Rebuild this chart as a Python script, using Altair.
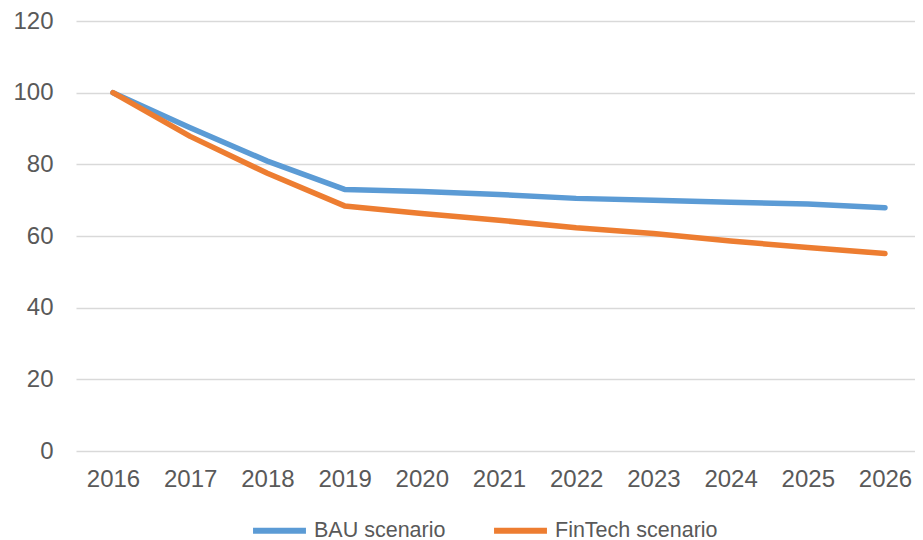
import altair as alt
import pandas as pd

years = [2016, 2017, 2018, 2019, 2020, 2021, 2022, 2023, 2024, 2025, 2026]
bau = [100, 90.2, 80.9, 73.0, 72.4, 71.6, 70.5, 70.0, 69.4, 68.9, 67.9]
fintech = [100, 87.8, 77.5, 68.4, 66.3, 64.4, 62.3, 60.7, 58.6, 56.8, 55.1]
series_names = ["BAU scenario", "FinTech scenario"]
colors = ["#5B9BD5", "#ED7D31"]
y_ticks = [0, 20, 40, 60, 80, 100, 120]

rows = []
for name, vals in zip(series_names, [bau, fintech]):
    for y, v in zip(years, vals):
        rows.append({"year": y, "value": v, "series": name})
df = pd.DataFrame(rows)

FONT = "Liberation Sans"
TXT = "#595959"

chart = alt.Chart(df).mark_line(strokeWidth=5.5, strokeCap="round", strokeJoin="round").encode(
    x=alt.X("year:Q", title=None,
            scale=alt.Scale(domain=[2015.521, 2026.389], nice=False, zero=False),
            axis=alt.Axis(values=years, format="d", labelAngle=0, domain=False, ticks=False,
                          grid=False, labelFlush=False, labelOverlap=False,
                          labelFont=FONT, labelFontSize=24, labelColor=TXT, labelPadding=16)),
    y=alt.Y("value:Q", title=None,
            scale=alt.Scale(domain=[0, 120], nice=False),
            axis=alt.Axis(values=y_ticks, domain=False, ticks=False, grid=True,
                          gridColor="#D9D9D9", gridWidth=1.5,
                          labelFont=FONT, labelFontSize=24, labelColor=TXT, labelPadding=23)),
    color=alt.Color("series:N", sort=series_names,
                    scale=alt.Scale(domain=series_names, range=colors),
                    legend=alt.Legend(title=None, orient="none", direction="horizontal",
                                      legendX=174, legendY=480,
                                      symbolType="stroke", symbolSize=2800, symbolStrokeWidth=6,
                                      labelFont=FONT, labelFontSize=21.5, labelColor=TXT,
                                      labelOffset=5, columnPadding=36, labelLimit=0)),
    detail="series:N",
).properties(
    width=839, height=430,
    background="white",
    autosize=alt.AutoSizeParams(type="none"),
    padding={"left": 68, "top": 13, "right": 0, "bottom": 94},
).configure_view(stroke=None, strokeWidth=0)

chart.save("out.html", embed_options={"renderer": "svg", "actions": False})
